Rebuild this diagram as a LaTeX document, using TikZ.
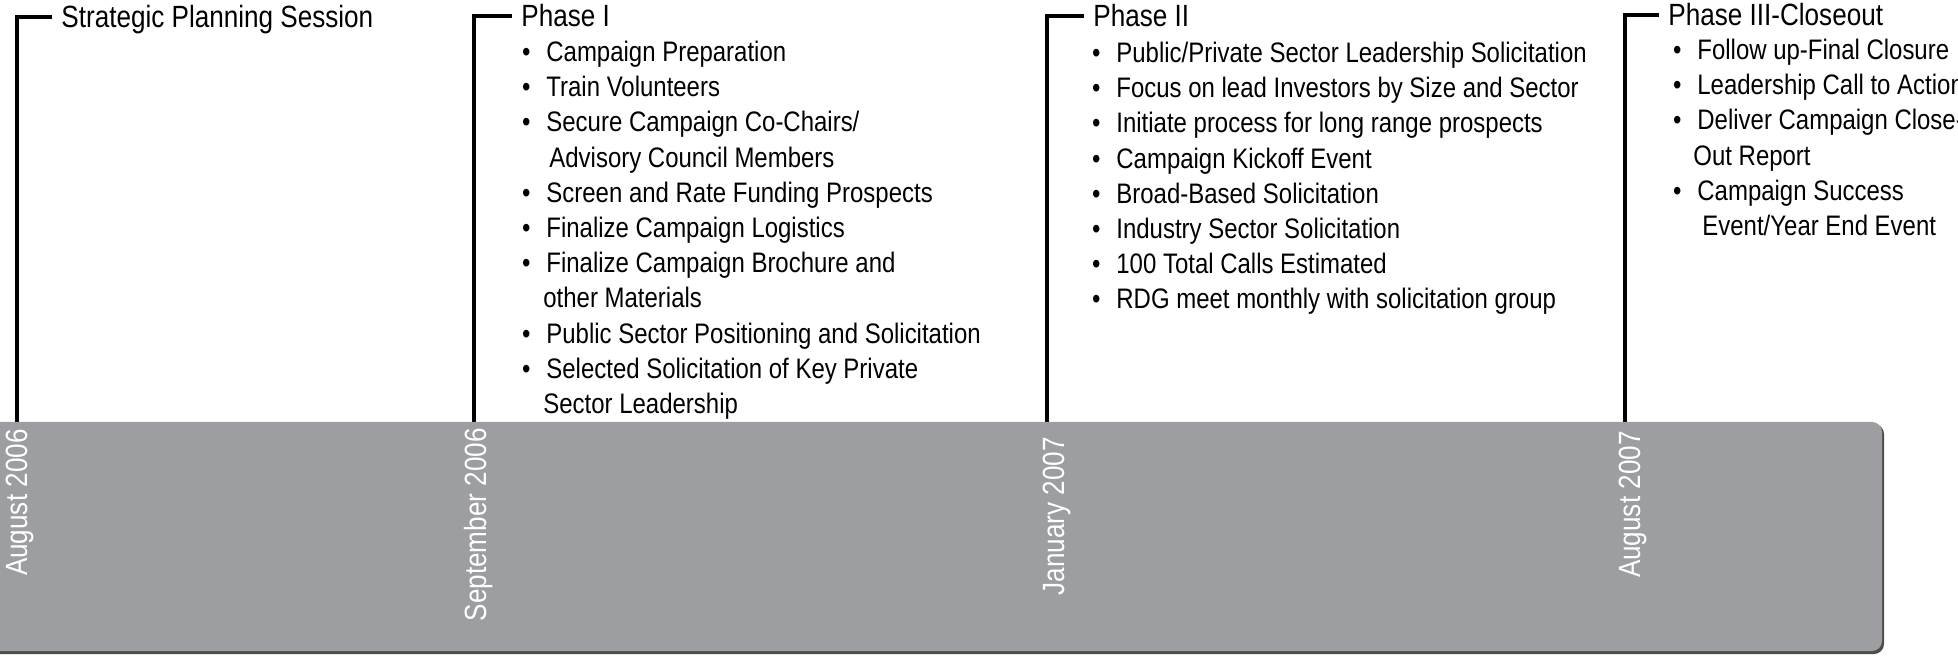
\documentclass[tikz,border=0pt]{standalone}
\usepackage{fontspec}
\setmainfont{Liberation Sans}[FakeStretch=0.85]
\definecolor{bandgray}{RGB}{157,158,162}
\newcommand\bul{\makebox[20pt][c]{\textbullet}}
\newcommand\titlefont{\fontsize{15.35pt}{17.6pt}\selectfont}
\newcommand\itemfont{\fontsize{14.1pt}{17.6pt}\selectfont}
\tikzset{
  brk/.style={line width=2pt},
  phasetitle/.style={anchor=west, inner sep=0pt, font=\titlefont, text height=11pt, text depth=0pt},
  itemline/.style={anchor=base west, inner sep=0pt, font=\itemfont},
  datelbl/.style={anchor=east, rotate=90, inner sep=0pt, font=\titlefont, text=white, text height=11pt, text depth=3pt},
}
\begin{document}
\begin{tikzpicture}[x=0.5pt, y=-0.5pt]
\useasboundingbox (0,0) rectangle (1958,656);
\clip (0,0) rectangle (1958,656);

% where the brackets meet the band
\coordinate (m1) at (17,422);
\coordinate (m2) at (474,422);
\coordinate (m3) at (1047,422);
\coordinate (m4) at (1625,422);

% phase titles
\node[phasetitle] (t1) at (61,17) {Strategic Planning Session};
\node[phasetitle] (t2) at (521,16) {Phase I};
\node[phasetitle] (t3) at (1093,16) {Phase II};
\node[phasetitle] (t4) at (1668,15) {Phase III-Closeout};

\draw[brk] (m1) |- ([xshift=-4.5pt]t1.west);
\draw[brk] (m2) |- ([xshift=-4.5pt]t2.west);
\draw[brk] (m3) |- ([xshift=-4.5pt]t3.west);
\draw[brk] (m4) |- ([xshift=-4.5pt]t4.west);

% phase I
\foreach \txt [count=\i] in {{\bul Campaign Preparation}, {\bul Train Volunteers},
    {\bul Secure Campaign Co-Chairs/}, {\hspace*{21.5pt}Advisory Council Members},
    {\bul Screen and Rate Funding Prospects}, {\bul Finalize Campaign Logistics},
    {\bul Finalize Campaign Brochure and}, {\hspace*{18.5pt}other Materials},
    {\bul Public Sector Positioning and Solicitation},
    {\bul Selected Solicitation of Key Private}, {\hspace*{18.5pt}Sector Leadership}}
  \node[itemline] (a\i) at (506,{61.5+35.2*(\i-1)}) {\txt};

% phase II
\foreach \txt [count=\i] in {{\bul Public/Private Sector Leadership Solicitation},
    {\bul Focus on lead Investors by Size and Sector},
    {\bul Initiate process for long range prospects}, {\bul Campaign Kickoff Event},
    {\bul Broad-Based Solicitation}, {\bul Industry Sector Solicitation},
    {\bul 100 Total Calls Estimated}, {\bul RDG meet monthly with solicitation group}}
  \node[itemline] (b\i) at (1076,{62.5+35.2*(\i-1)}) {\txt};

% phase III
\foreach \txt [count=\i] in {{\bul Follow up-Final Closure}, {\bul Leadership Call to Action},
    {\bul Deliver Campaign Close-}, {\hspace*{18pt}Out Report},
    {\bul Campaign Success}, {\hspace*{22.5pt}Event/Year End Event}}
  \node[itemline] (c\i) at (1657,{59.5+35.2*(\i-1)}) {\txt};

% band
\fill[black!70, rounded corners=5pt] (-20,424) rectangle (1884,654);
\fill[bandgray, rounded corners=5pt] (-20,422) rectangle (1882,651);

% dates
\node[datelbl] (d1) at (19,429) {August 2006};
\node[datelbl] (d2) at (478,428) {September 2006};
\node[datelbl] (d3) at (1056,437) {January 2007};
\node[datelbl] (d4) at (1632,431) {August 2007};
\end{tikzpicture}
\end{document}
